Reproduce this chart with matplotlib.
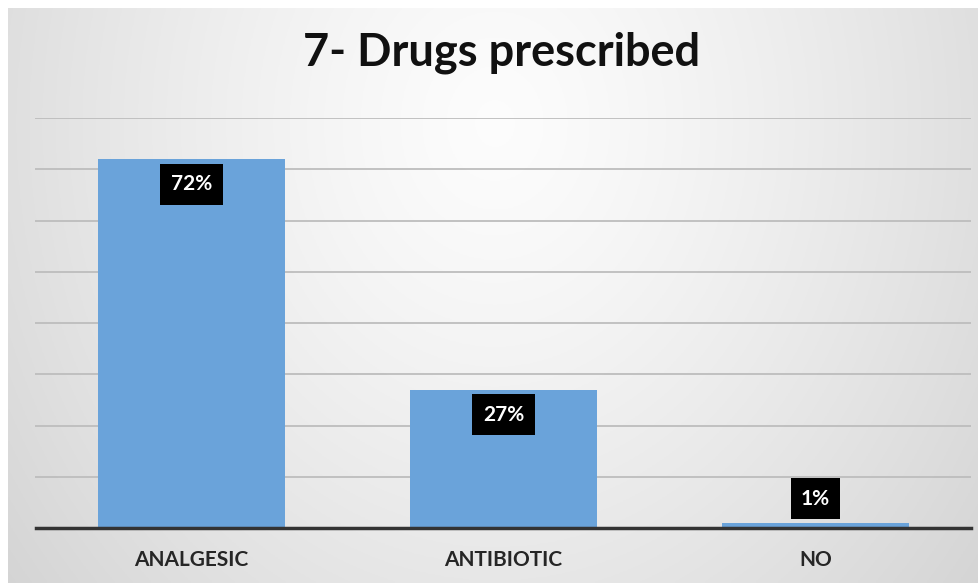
import numpy as np
import matplotlib
matplotlib.use("Agg")
import matplotlib.pyplot as plt

categories = ["ANALGESIC", "ANTIBIOTIC", "NO"]
values = [72, 27, 1]
labels = ["72%", "27%", "1%"]
title = "7- Drugs prescribed"

W, H = 979, 583
fig = plt.figure(figsize=(W / 100, H / 100), dpi=100)
fig.patch.set_facecolor("white")

# background gradient
bg = fig.add_axes([0.008, 0, 0.992, 0.987])
yy, xx = np.mgrid[0:200, 0:400]
cx, cy = 200, 40
d = np.sqrt(((xx - cx) / 260.0) ** 2 + ((yy - cy) / 260.0) ** 2)
shade = 0.99 - 0.16 * np.clip(d, 0, 1) ** 1.3
img = np.dstack([shade, shade, shade])
bg.imshow(img, aspect="auto", extent=[0, 1, 0, 1], origin="upper")
bg.set_axis_off()

ax = fig.add_axes([35.5 / W, 1 - 528 / H, 936 / W, (528 - 118) / H])
ax.patch.set_alpha(0)
x = np.arange(len(categories))
ax.bar(x, values, width=0.6, color="#6aa3da", zorder=2)
ax.set_xlim(-0.5, len(categories) - 0.5)
ax.set_ylim(0, 80)
ax.set_yticks(np.arange(10, 81, 10))
ax.yaxis.grid(True, color="#bdbdbd", linewidth=1.3, zorder=0)
ax.tick_params(axis="y", left=False, labelleft=False)
ax.tick_params(axis="x", bottom=False, pad=12)
ax.set_xticks(x)
ax.set_xticklabels(categories, fontsize=15, fontweight="bold", color="#262626", family="Lato")
for s in ["top", "right", "left"]:
    ax.spines[s].set_visible(False)
ax.spines["bottom"].set_color("#333333")
ax.spines["bottom"].set_linewidth(2.5)
ax.spines["bottom"].set_zorder(3)

for xi, v, lab in zip(x, values, labels):
    if v > 10:
        y = v - 4.9
    else:
        y = v + 4.7
    ax.text(xi, y, lab, ha="center", va="center", fontsize=15, fontweight="bold",
            color="white", family="Lato", zorder=4,
            bbox=dict(boxstyle="square,pad=0.5", facecolor="black", edgecolor="none"))

fig.text(502 / W, 1 - 65 / H, title, ha="center", va="baseline", fontsize=32.5,
         fontweight="bold", color="#111111", family="Lato")

fig.savefig("out.png", dpi=100)
